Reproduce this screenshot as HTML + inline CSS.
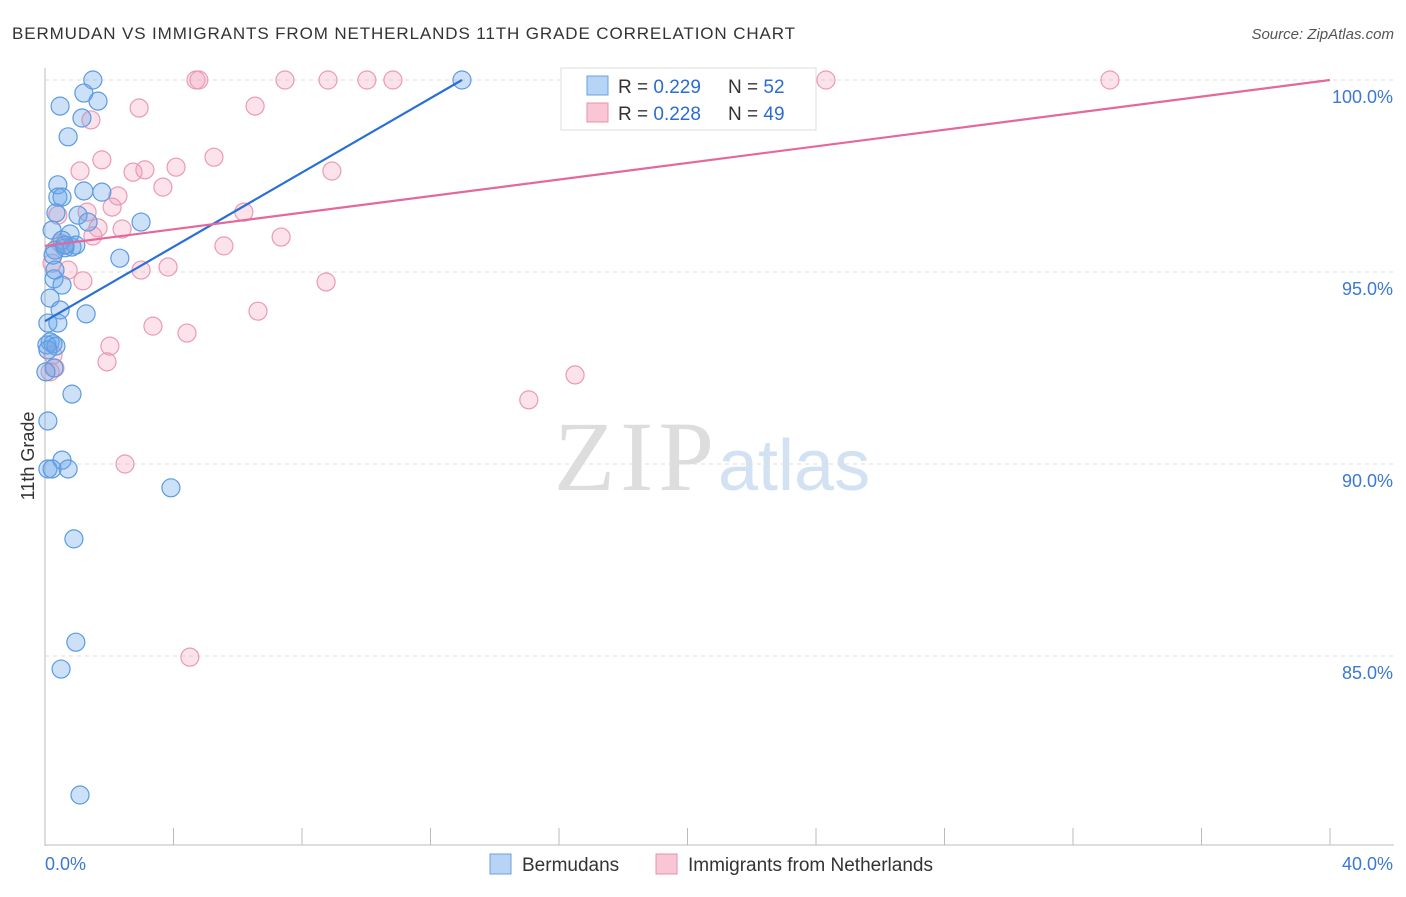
<!DOCTYPE html>
<html><head><meta charset="utf-8"><style>
body{margin:0;background:#fff;font-family:"Liberation Sans",sans-serif;}
</style></head><body>
<svg id="c" width="1406" height="892" xmlns="http://www.w3.org/2000/svg" font-family="Liberation Sans, sans-serif">
<text x="12" y="39" font-size="17" fill="#333" textLength="783">BERMUDAN VS IMMIGRANTS FROM NETHERLANDS 11TH GRADE CORRELATION CHART</text>
<text x="1394" y="39" font-size="15" fill="#555" text-anchor="end" font-style="italic">Source: ZipAtlas.com</text>
<text transform="translate(34,456) rotate(-90)" font-size="18" fill="#333" text-anchor="middle">11th Grade</text>
<text x="554" y="490" font-size="100" fill="#ddd" style="font-family:'Liberation Serif',serif" textLength="160">ZIP</text>
<text x="718" y="490" font-size="72" fill="#d3e2f3">atlas</text>
<g id="grid"></g><g id="pts"></g><g id="lines"></g>
<g>
<rect x="561" y="68" width="255" height="62" fill="#fff" stroke="#ddd"/>
<rect x="587" y="76" width="21" height="19" fill="#b7d3f5" stroke="#6aa0e0"/>
<text x="618" y="93" font-size="19" fill="#333">R = <tspan fill="#2a6cd0">0.229</tspan></text>
<text x="728" y="93" font-size="19" fill="#333">N = <tspan fill="#2a6cd0">52</tspan></text>
<rect x="587" y="103" width="21" height="19" fill="#f8c6d5" stroke="#e890aa"/>
<text x="618" y="120" font-size="19" fill="#333">R = <tspan fill="#2a6cd0">0.228</tspan></text>
<text x="728" y="120" font-size="19" fill="#333">N = <tspan fill="#2a6cd0">49</tspan></text>
</g>
<g>
<rect x="490" y="854" width="21" height="20" fill="#b7d3f5" stroke="#6aa0e0"/>
<text x="522" y="871" font-size="19" fill="#333">Bermudans</text>
<rect x="656" y="854" width="21" height="20" fill="#f8c6d5" stroke="#e890aa"/>
<text x="688" y="871" font-size="19" fill="#333">Immigrants from Netherlands</text>
</g>
</svg>
<script>
const xTicks=[0,40];
const yTicks=[100,95,90,85];
const blueX=[1.49,1.21,1.65,0.47,1.15,0.72,0.40,0.40,0.53,1.21,1.77,0.34,1.03,1.34,2.99,0.22,0.78,0.53,0.84,0.96,0.62,0.31,2.33,0.28,0.53,0.16,0.47,1.28,0.09,0.40,0.16,0.25,0.06,0.34,0.28,0.84,0.09,0.53,0.09,0.22,0.72,3.92,0.90,0.96,0.50,1.09,12.98,0.03,0.09,0.25,0.62,0.31];
const blueY=[100,99.66,99.45,99.32,99.01,98.52,97.27,96.95,96.95,97.11,97.08,96.54,96.48,96.30,96.30,96.09,95.99,95.83,95.65,95.70,95.63,95.57,95.36,94.82,94.66,94.32,94.01,93.91,93.67,93.67,93.18,93.13,93.10,93.07,92.50,91.82,91.12,90.10,89.87,89.87,89.87,89.38,88.05,85.36,84.66,81.38,100,92.40,92.97,95.44,95.70,95.05];
const pinkX=[4.70,4.79,7.47,8.81,10.02,10.83,24.31,33.15,2.93,6.54,1.43,1.77,1.09,2.74,3.11,4.08,5.26,3.67,8.93,2.27,2.09,1.31,0.40,6.19,1.65,2.40,7.35,1.49,0.47,5.57,0.22,0.72,2.99,3.83,1.18,8.75,6.63,3.36,4.42,2.02,1.93,0.25,0.31,16.50,15.06,2.49,4.51,0.16,0.59];
const pinkY=[100,100,100,100,100,100,100,100,99.27,99.32,98.96,97.92,97.63,97.60,97.66,97.73,97.99,97.21,97.63,96.98,96.69,96.56,96.48,96.56,96.15,96.12,95.91,95.94,95.76,95.68,95.23,95.05,95.05,95.13,94.77,94.74,93.98,93.59,93.41,93.07,92.66,92.84,92.50,92.32,91.67,90.00,84.97,92.40,95.70];
const blueLine=[93.72,100],blueLineX=[0,12.98];
const pinkLine=[95.68,100],pinkLineX=[0,40];
const X0=45,X1=1330,Y100=80,PX_PER=38.4;
const sx=v=>X0+(v-xTicks[0])/(xTicks[1]-xTicks[0])*(X1-X0);
const sy=v=>Y100+(100-v)*PX_PER;
const NS="http://www.w3.org/2000/svg";
function mk(t,a,p){const e=document.createElementNS(NS,t);for(const k in a)e.setAttribute(k,a[k]);p.appendChild(e);return e;}
const g=document.getElementById('grid');
let ax=mk('line',{x1:X0,y1:68,x2:X0,y2:846,stroke:'#bbb'},g);


let bx=mk('line',{x1:X0,y1:845,x2:1394,y2:845,stroke:'#bbb'},g);


yTicks.forEach(v=>{
 let l=mk('line',{x1:X0,y1:sy(v),x2:1394,y2:sy(v),stroke:'#ddd','stroke-dasharray':'4,4'},g);
 
 
 let t=mk('text',{x:1393,y:sy(v)+23,'font-size':18,fill:'#3a78d4','text-anchor':'end'},g);
 t.textContent=v.toFixed(1)+'%';
 
 
});
for(let i=0;i<=10;i++){
 const v=xTicks[0]+i*(xTicks[1]-xTicks[0])/10;
 let l=mk('line',{x1:sx(v),y1:828,x2:sx(v),y2:845,stroke:'#bbb'},g);
 
 
}
xTicks.forEach((v,i)=>{
 let t=mk('text',{x:i?1393:45,y:870,'font-size':18,fill:'#3a78d4','text-anchor':i?'end':'start'},g);
 t.textContent=v.toFixed(1)+'%';
 
 
});
const p=document.getElementById('pts');
pinkX.forEach((x,i)=>{
 let c=mk('circle',{cx:sx(x),cy:sy(pinkY[i]),r:9,fill:'rgba(242,160,188,0.3)',stroke:'#eb9ab3','stroke-width':1.2},p);
 
 
});
blueX.forEach((x,i)=>{
 let c=mk('circle',{cx:sx(x),cy:sy(blueY[i]),r:9,fill:'rgba(110,165,232,0.35)',stroke:'#5b9be2','stroke-width':1.2},p);
 
 
});
const L=document.getElementById('lines');
let bl=mk('line',{x1:sx(blueLineX[0]),y1:sy(blueLine[0]),x2:sx(blueLineX[1]),y2:sy(blueLine[1]),stroke:'#2a6fd6','stroke-width':2.2},L);


let pl=mk('line',{x1:sx(pinkLineX[0]),y1:sy(pinkLine[0]),x2:sx(pinkLineX[1]),y2:sy(pinkLine[1]),stroke:'#e4689a','stroke-width':2.2},L);


</script>
</body></html>
